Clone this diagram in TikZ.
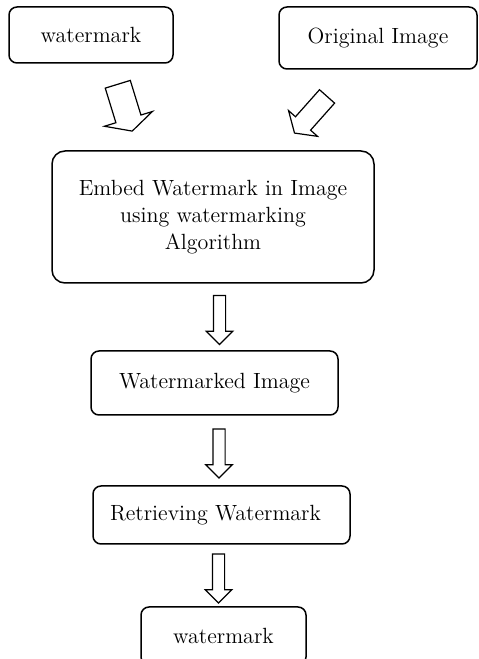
\documentclass[tikz,border=0pt]{standalone}
\usetikzlibrary{shapes.arrows,calc}
\begin{document}
\begin{tikzpicture}[x=0.5pt,y=0.5pt,line width=0.75pt,
box node/.style={rectangle,draw,rounded corners=4pt,align=center,inner sep=2pt,font=\fontsize{11}{13.5}\selectfont},
down arrow/.style={single arrow,draw,line width=0.6pt,inner sep=2.75pt,single arrow head extend=3.6pt,minimum height=24.5pt,sloped,allow upside down,anchor=center}]
\useasboundingbox (0,0) rectangle (478,659);
\begin{scope}
\node[box node,minimum width=82pt,minimum height=28pt] (wm1) at (91,624) {watermark};
\node[box node,minimum width=99pt,minimum height=31pt] (orig) at (378,621) {Original Image};
\node[box node,rounded corners=6.5pt,minimum width=161pt,minimum height=66pt] (emb) at (213,442) {Embed Watermark in Image\\using watermarking\\Algorithm};
\node[box node,minimum width=123.5pt,minimum height=32pt] (wmi) at (214.5,276) {Watermarked Image};
\node[box node,minimum width=128.5pt,minimum height=29pt] (ret) at (221.5,144) {Retrieving Watermark\hspace{6pt}};
\node[box node,minimum width=82.5pt,minimum height=29pt] (wm2) at (223.5,23) {watermark};
\end{scope}
\begin{scope}
% fat arrows into the embedding step
\path ([shift={(13pt,-9pt)}]wm1.south) -- ([shift={(-41pt,11.5pt)}]emb.north) node[midway,down arrow,inner sep=6.25pt,single arrow head extend=6pt,single arrow tip angle=126] (a1) {};
\path ([shift={(-24.5pt,-12.25pt)}]orig.south) -- ([shift={(42pt,10pt)}]emb.north) node[midway,down arrow,inner sep=4.75pt,single arrow head extend=4.65pt,single arrow tip angle=113] (a2) {};
% straight down between the steps
\path ([xshift=3.25pt]emb.south) -- ([xshift=3.25pt]emb.south |- wmi.north) node[midway,down arrow] (a3) {};
\path ([xshift=2.25pt]wmi.south) -- ([xshift=2.25pt]wmi.south |- ret.north) node[midway,down arrow] (a4) {};
\path ([xshift=-1.5pt]ret.south) -- ([xshift=-1.5pt]ret.south |- wm2.north) node[midway,down arrow] (a5) {};
\end{scope}
\end{tikzpicture}
\end{document}
